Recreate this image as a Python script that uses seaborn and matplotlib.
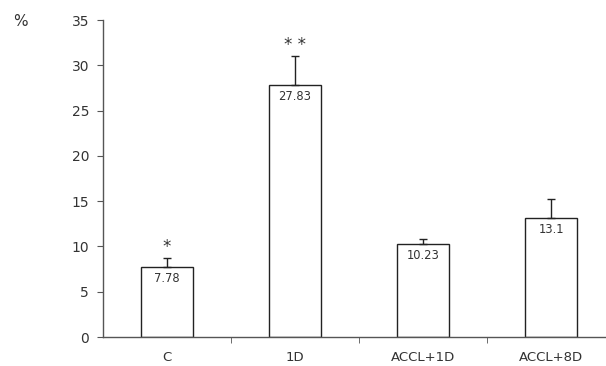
import matplotlib
matplotlib.use("Agg")
import matplotlib.pyplot as plt
import seaborn as sns
import pandas as pd

groups = ["C", "1D", "ACCL+1D", "ACCL+8D"]
means = [7.78, 27.83, 10.23, 13.1]
errors = [0.94, 3.2, 0.55, 2.14]
marks = ["*", "* *", "", ""]

sns.set_style("white")
plt.rcParams["font.family"] = ["DejaVu Sans"]

df = pd.DataFrame({"group": groups, "mean": means})

fig = plt.figure(figsize=(6.06, 3.66), dpi=100)
ax = fig.add_axes([0.17, 0.0792, 0.845, 0.866])

sns.barplot(data=df, x="group", y="mean", ax=ax, width=0.4,
            color="white", edgecolor="#222222", linewidth=1.0, errorbar=None)
ax.errorbar(range(len(groups)), means, yerr=[[0] * len(groups), errors],
            fmt="none", ecolor="#222222", elinewidth=1.0, capsize=3, capthick=1.0)

for i, (m, e, s) in enumerate(zip(means, errors, marks)):
    ax.text(i, m - 0.55, f"{m:g}", ha="center", va="top", fontsize=8.3, color="#333333")
    if s:
        ax.text(i, m + e + 0.2, s, ha="center", va="bottom", fontsize=12, color="#333333")

ax.set_xlim(-0.5, 3.5)
ax.set_ylim(0, 35)
ax.set_yticks(range(0, 36, 5))
ax.set_xticks(range(len(groups)))
ax.set_xticklabels(groups)
ax.set_xticks([0.5, 1.5, 2.5], minor=True)
ax.tick_params(axis="x", which="major", length=0, pad=10, labelsize=9.5, labelcolor="#333333")
ax.tick_params(axis="x", which="minor", length=4, direction="out", color="#555555", bottom=True)
ax.tick_params(axis="y", length=4, direction="out", color="#555555", left=True,
               labelsize=10, labelcolor="#333333", pad=6)
ax.set_xlabel("")
ax.set_ylabel("")
for side in ["top", "right"]:
    ax.spines[side].set_visible(False)
for side in ["left", "bottom"]:
    ax.spines[side].set_color("#555555")
    ax.spines[side].set_linewidth(1.0)

fig.text(13 / 606, 1 - 22 / 366, "%", ha="left", va="center", fontsize=11, color="#333333")

fig.savefig("out.png", dpi=100)
